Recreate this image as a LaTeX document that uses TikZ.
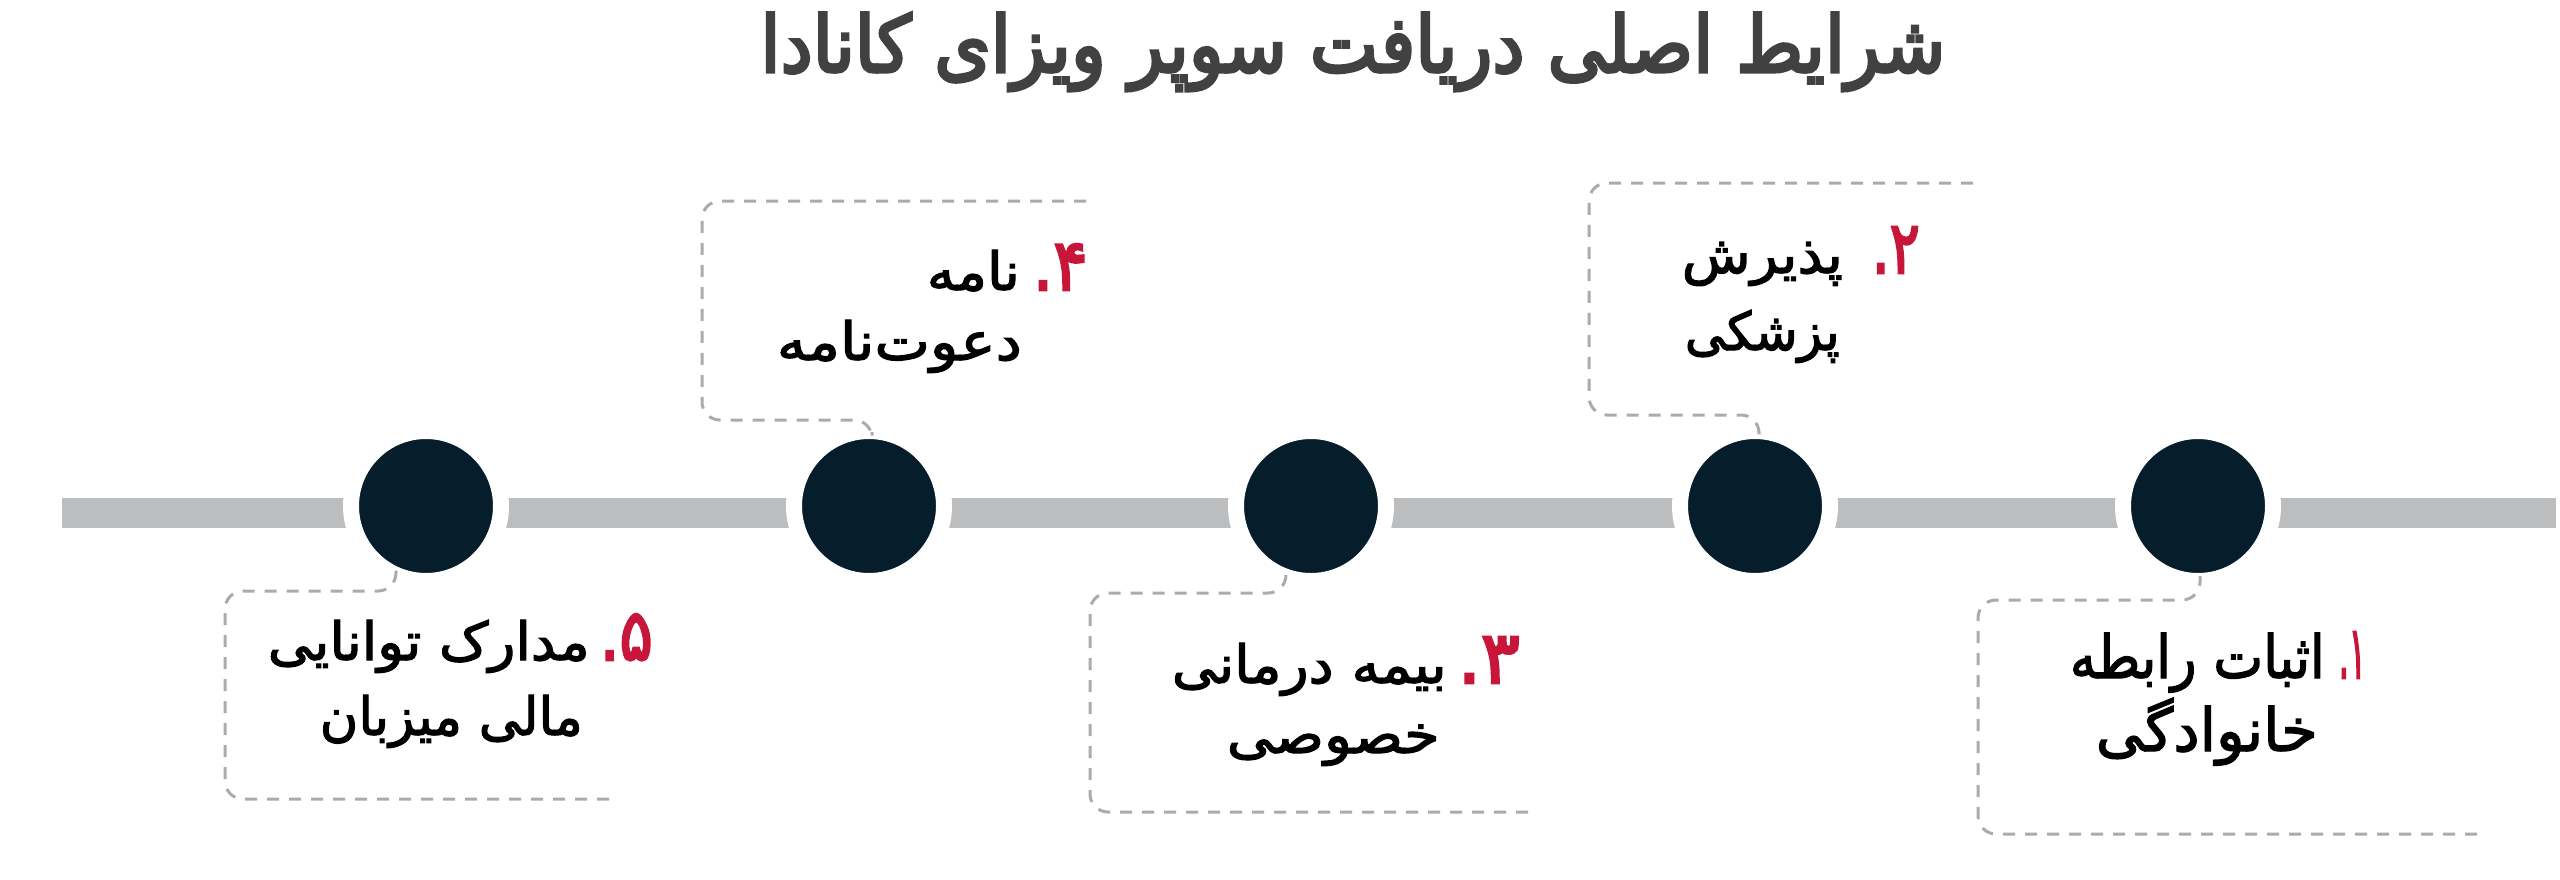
\documentclass[tikz,border=0pt]{standalone}
\usepackage{fontspec}
\usetikzlibrary{calc}
\TeXXeTstate=1
\newfontfamily\arabicfont[Script=Arabic,FakeBold=2.2]{DejaVu Sans}
\newfontfamily\titlefont[Script=Arabic,FakeBold=4]{DejaVu Sans}
\newfontfamily\numfont[Script=Arabic,FakeBold=3.5]{DejaVu Sans}
\definecolor{navy}{HTML}{061D2C}
\definecolor{bargray}{HTML}{BCBDBF}
\definecolor{dashgray}{HTML}{ABABAB}
\definecolor{numred}{HTML}{C8153A}
\definecolor{titlegray}{HTML}{414141}
\newcommand\rtlfit[2]{\resizebox{#1pt}{1.1\height}{#2}}
\newcommand\numbox[2]{\resizebox{#1pt}{46pt}{\hbox{.}\hbox{#2}}}
\begin{document}
\begin{tikzpicture}[x=1pt,y=-1pt,
  dot/.style={circle, minimum size=150pt, inner sep=0pt, fill=navy, draw=white, line width=16pt},
  frame/.style={draw=dashgray, line width=3pt, dash pattern=on 12pt off 10pt, rounded corners=18pt},
  itemtext/.style={inner sep=0pt, anchor=base east, text=black, font=\arabicfont\fontsize{48}{54}\selectfont},
  bigitem/.style={itemtext, font=\arabicfont\fontsize{54}{60}\selectfont},
  numtext/.style={inner sep=0pt, anchor=base east, text=numred, font=\numfont\fontsize{60}{66}\selectfont},
  titlestyle/.style={inner sep=0pt, anchor=base, text=titlegray, font=\titlefont\fontsize{78}{82}\selectfont}]
\useasboundingbox (0,0) rectangle (2560,879);
\fill[white] (0,0) rectangle (2560,879);

% title
\node[titlestyle] (title) at (1353,72) {\resizebox{1185pt}{\height}{\beginR شرایط اصلی دریافت سوپر ویزای کانادا\endR}};

% timeline bar
\fill[bargray] (62,498) rectangle (2556,528);

% circles
\node[dot] (c1) at (2198,506) {};
\node[dot] (c2) at (1755,506) {};
\node[dot] (c3) at (1311,506) {};
\node[dot] (c4) at (869,506) {};
\node[dot] (c5) at (426,506) {};

% frames and connectors
\draw[frame] (1086,201) -- (702,201) -- (702,420) -- ($(c4.north)+(3,-3)$) -- ($(c4.north)+(3,9)$);
\draw[frame] (1973,183) -- (1589,183) -- (1589,415) -- ($(c2.north)+(4,-8)$) -- ($(c2.north)+(4,12)$);
\draw[frame] (609,799) -- (225,799) -- (225,591) -- ($(c5.south)+(-30,2)$) -- ($(c5.south)+(-30,-21)$);
\draw[frame] (1528,812) -- (1090,812) -- (1090,593) -- ($(c3.south)+(-25,4)$) -- ($(c3.south)+(-25,-12)$);
\draw[frame] (2477,834) -- (1978,834) -- (1978,600) -- ($(c1.south)+(2,11)$) -- ($(c1.south)+(2,-13)$);

% box 4
\node[numtext] (n4) at (1088,290) {\numbox{55}{۴}};
\node[itemtext] (t4a) at (1020,290) {\rtlfit{93}{\beginR نامه\endR}};
\node[itemtext] (t4b) at (1022,360) {\rtlfit{245}{\beginR دعوت‌نامه\endR}};
% box 2
\node[numtext] (n2) at (1920,273) {\numbox{48}{۲}};
\node[itemtext] (t2a) at (1843,273) {\rtlfit{161}{\beginR پذیرش\endR}};
\node[itemtext] (t2b) at (1840,350) {\rtlfit{155}{\beginR پزشکی\endR}};
% box 5
\node[numtext] (n5) at (653,660) {\numbox{53}{۵}};
\node[itemtext] (t5a) at (590,660) {\rtlfit{322}{\beginR مدارک توانایی\endR}};
\node[itemtext] (t5b) at (583,735) {\rtlfit{263}{\beginR مالی میزبان\endR}};
% box 3
\node[numtext] (n3) at (1520,683) {\numbox{62}{۳}};
\node[itemtext] (t3a) at (1447,683) {\rtlfit{275}{\beginR بیمه درمانی\endR}};
\node[itemtext] (t3b) at (1440,753) {\rtlfit{213}{\beginR خصوصی\endR}};
% box 1
\node[numtext] (n1) at (2366,678) {\numbox{27}{۱}};
\node[bigitem] (t1a) at (2325,678) {\rtlfit{255}{\beginR اثبات رابطه\endR}};
\node[bigitem] (t1b) at (2318,751) {\rtlfit{222}{\beginR خانوادگی\endR}};
\end{tikzpicture}
\end{document}
